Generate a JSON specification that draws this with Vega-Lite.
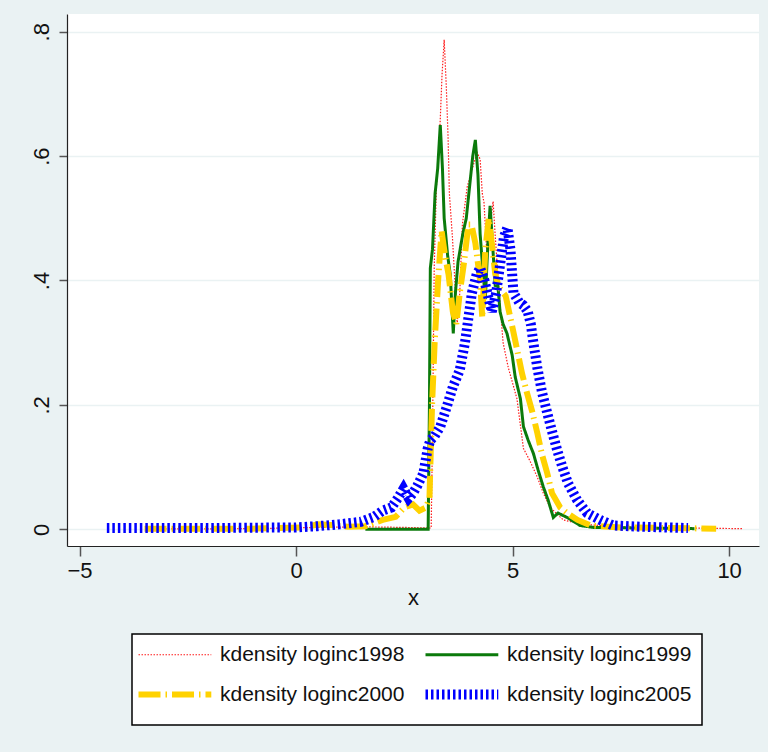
{
  "$schema": "https://vega.github.io/schema/vega-lite/v6.json",
  "autosize": "none",
  "width": 692,
  "height": 532,
  "padding": {"left": 67, "top": 14, "right": 9, "bottom": 206},
  "background": "#eaf2f3",
  "config": {
    "view": {"fill": "white", "stroke": null},
    "font": "Liberation Sans"
  },
  "datasets": {
    "d": [
      {"series": "kdensity loginc1998", "x": -3.3, "y": 0.0005},
      {"series": "kdensity loginc1998", "x": -1.0, "y": 0.001},
      {"series": "kdensity loginc1998", "x": 0.5, "y": 0.003},
      {"series": "kdensity loginc1998", "x": 1.5, "y": 0.004},
      {"series": "kdensity loginc1998", "x": 2.5, "y": 0.003},
      {"series": "kdensity loginc1998", "x": 3.12, "y": 0.002},
      {"series": "kdensity loginc1998", "x": 3.15, "y": 0.15},
      {"series": "kdensity loginc1998", "x": 3.19, "y": 0.42},
      {"series": "kdensity loginc1998", "x": 3.24, "y": 0.55},
      {"series": "kdensity loginc1998", "x": 3.29, "y": 0.6},
      {"series": "kdensity loginc1998", "x": 3.33, "y": 0.66},
      {"series": "kdensity loginc1998", "x": 3.37, "y": 0.73},
      {"series": "kdensity loginc1998", "x": 3.42, "y": 0.787},
      {"series": "kdensity loginc1998", "x": 3.47, "y": 0.71},
      {"series": "kdensity loginc1998", "x": 3.51, "y": 0.63},
      {"series": "kdensity loginc1998", "x": 3.54, "y": 0.54},
      {"series": "kdensity loginc1998", "x": 3.61, "y": 0.47},
      {"series": "kdensity loginc1998", "x": 3.65, "y": 0.42},
      {"series": "kdensity loginc1998", "x": 3.72, "y": 0.33},
      {"series": "kdensity loginc1998", "x": 3.78, "y": 0.38},
      {"series": "kdensity loginc1998", "x": 3.84, "y": 0.49},
      {"series": "kdensity loginc1998", "x": 3.95, "y": 0.55},
      {"series": "kdensity loginc1998", "x": 4.07, "y": 0.58},
      {"series": "kdensity loginc1998", "x": 4.18, "y": 0.606},
      {"series": "kdensity loginc1998", "x": 4.25, "y": 0.595},
      {"series": "kdensity loginc1998", "x": 4.3, "y": 0.54},
      {"series": "kdensity loginc1998", "x": 4.34, "y": 0.525},
      {"series": "kdensity loginc1998", "x": 4.4, "y": 0.45},
      {"series": "kdensity loginc1998", "x": 4.47, "y": 0.48},
      {"series": "kdensity loginc1998", "x": 4.55, "y": 0.527},
      {"series": "kdensity loginc1998", "x": 4.6, "y": 0.47},
      {"series": "kdensity loginc1998", "x": 4.68, "y": 0.39},
      {"series": "kdensity loginc1998", "x": 4.78, "y": 0.3},
      {"series": "kdensity loginc1998", "x": 4.9, "y": 0.26},
      {"series": "kdensity loginc1998", "x": 5.1, "y": 0.21},
      {"series": "kdensity loginc1998", "x": 5.25, "y": 0.13},
      {"series": "kdensity loginc1998", "x": 5.4, "y": 0.11},
      {"series": "kdensity loginc1998", "x": 5.57, "y": 0.084},
      {"series": "kdensity loginc1998", "x": 5.71, "y": 0.058},
      {"series": "kdensity loginc1998", "x": 5.87, "y": 0.035},
      {"series": "kdensity loginc1998", "x": 6.17, "y": 0.015},
      {"series": "kdensity loginc1998", "x": 6.6, "y": 0.008},
      {"series": "kdensity loginc1998", "x": 7.5, "y": 0.004},
      {"series": "kdensity loginc1998", "x": 9.0, "y": 0.002},
      {"series": "kdensity loginc1998", "x": 10.3, "y": 0.001},

      {"series": "kdensity loginc1999", "x": 1.6, "y": 0.0},
      {"series": "kdensity loginc1999", "x": 3.05, "y": 0.0},
      {"series": "kdensity loginc1999", "x": 3.08, "y": 0.2},
      {"series": "kdensity loginc1999", "x": 3.1, "y": 0.42},
      {"series": "kdensity loginc1999", "x": 3.15, "y": 0.45},
      {"series": "kdensity loginc1999", "x": 3.21, "y": 0.54},
      {"series": "kdensity loginc1999", "x": 3.27, "y": 0.58},
      {"series": "kdensity loginc1999", "x": 3.33, "y": 0.65},
      {"series": "kdensity loginc1999", "x": 3.38, "y": 0.58},
      {"series": "kdensity loginc1999", "x": 3.42, "y": 0.5},
      {"series": "kdensity loginc1999", "x": 3.5, "y": 0.44},
      {"series": "kdensity loginc1999", "x": 3.56, "y": 0.41},
      {"series": "kdensity loginc1999", "x": 3.63, "y": 0.315},
      {"series": "kdensity loginc1999", "x": 3.68, "y": 0.38},
      {"series": "kdensity loginc1999", "x": 3.74, "y": 0.43},
      {"series": "kdensity loginc1999", "x": 3.85, "y": 0.475},
      {"series": "kdensity loginc1999", "x": 3.93, "y": 0.5},
      {"series": "kdensity loginc1999", "x": 4.02, "y": 0.56},
      {"series": "kdensity loginc1999", "x": 4.08, "y": 0.6},
      {"series": "kdensity loginc1999", "x": 4.14, "y": 0.626},
      {"series": "kdensity loginc1999", "x": 4.2, "y": 0.57},
      {"series": "kdensity loginc1999", "x": 4.25, "y": 0.475},
      {"series": "kdensity loginc1999", "x": 4.31, "y": 0.42},
      {"series": "kdensity loginc1999", "x": 4.37, "y": 0.37},
      {"series": "kdensity loginc1999", "x": 4.43, "y": 0.46},
      {"series": "kdensity loginc1999", "x": 4.48, "y": 0.52},
      {"series": "kdensity loginc1999", "x": 4.55, "y": 0.445},
      {"series": "kdensity loginc1999", "x": 4.6, "y": 0.39},
      {"series": "kdensity loginc1999", "x": 4.65, "y": 0.4},
      {"series": "kdensity loginc1999", "x": 4.71, "y": 0.35},
      {"series": "kdensity loginc1999", "x": 4.78, "y": 0.33},
      {"series": "kdensity loginc1999", "x": 4.87, "y": 0.315},
      {"series": "kdensity loginc1999", "x": 4.99, "y": 0.28},
      {"series": "kdensity loginc1999", "x": 5.06, "y": 0.245},
      {"series": "kdensity loginc1999", "x": 5.18, "y": 0.21},
      {"series": "kdensity loginc1999", "x": 5.25, "y": 0.165},
      {"series": "kdensity loginc1999", "x": 5.36, "y": 0.143},
      {"series": "kdensity loginc1999", "x": 5.48, "y": 0.122},
      {"series": "kdensity loginc1999", "x": 5.59, "y": 0.095},
      {"series": "kdensity loginc1999", "x": 5.71, "y": 0.068},
      {"series": "kdensity loginc1999", "x": 5.82, "y": 0.047},
      {"series": "kdensity loginc1999", "x": 5.94, "y": 0.019},
      {"series": "kdensity loginc1999", "x": 6.05, "y": 0.026},
      {"series": "kdensity loginc1999", "x": 6.26, "y": 0.019},
      {"series": "kdensity loginc1999", "x": 6.56, "y": 0.006},
      {"series": "kdensity loginc1999", "x": 6.86, "y": 0.003},
      {"series": "kdensity loginc1999", "x": 8.0, "y": 0.002},
      {"series": "kdensity loginc1999", "x": 9.2, "y": 0.001},

      {"series": "kdensity loginc2000", "x": -3.5, "y": 0.001},
      {"series": "kdensity loginc2000", "x": -1.0, "y": 0.001},
      {"series": "kdensity loginc2000", "x": 0.2, "y": 0.003},
      {"series": "kdensity loginc2000", "x": 0.5, "y": 0.008},
      {"series": "kdensity loginc2000", "x": 0.8, "y": 0.007},
      {"series": "kdensity loginc2000", "x": 1.2, "y": 0.004},
      {"series": "kdensity loginc2000", "x": 1.6, "y": 0.005},
      {"series": "kdensity loginc2000", "x": 2.0, "y": 0.015},
      {"series": "kdensity loginc2000", "x": 2.3, "y": 0.02},
      {"series": "kdensity loginc2000", "x": 2.5, "y": 0.035},
      {"series": "kdensity loginc2000", "x": 2.7, "y": 0.04},
      {"series": "kdensity loginc2000", "x": 2.85, "y": 0.03},
      {"series": "kdensity loginc2000", "x": 3.0, "y": 0.035},
      {"series": "kdensity loginc2000", "x": 3.08, "y": 0.05},
      {"series": "kdensity loginc2000", "x": 3.14, "y": 0.2},
      {"series": "kdensity loginc2000", "x": 3.2, "y": 0.3},
      {"series": "kdensity loginc2000", "x": 3.28, "y": 0.4},
      {"series": "kdensity loginc2000", "x": 3.36, "y": 0.48},
      {"series": "kdensity loginc2000", "x": 3.44, "y": 0.44},
      {"series": "kdensity loginc2000", "x": 3.52, "y": 0.41},
      {"series": "kdensity loginc2000", "x": 3.62, "y": 0.35},
      {"series": "kdensity loginc2000", "x": 3.7, "y": 0.33},
      {"series": "kdensity loginc2000", "x": 3.78, "y": 0.38},
      {"series": "kdensity loginc2000", "x": 3.88, "y": 0.43},
      {"series": "kdensity loginc2000", "x": 3.98, "y": 0.49},
      {"series": "kdensity loginc2000", "x": 4.05, "y": 0.49},
      {"series": "kdensity loginc2000", "x": 4.14, "y": 0.46},
      {"series": "kdensity loginc2000", "x": 4.25, "y": 0.4},
      {"series": "kdensity loginc2000", "x": 4.3, "y": 0.34},
      {"series": "kdensity loginc2000", "x": 4.37, "y": 0.45},
      {"series": "kdensity loginc2000", "x": 4.45, "y": 0.5},
      {"series": "kdensity loginc2000", "x": 4.52, "y": 0.46},
      {"series": "kdensity loginc2000", "x": 4.6, "y": 0.41},
      {"series": "kdensity loginc2000", "x": 4.68, "y": 0.39},
      {"series": "kdensity loginc2000", "x": 4.84, "y": 0.375},
      {"series": "kdensity loginc2000", "x": 4.98, "y": 0.33},
      {"series": "kdensity loginc2000", "x": 5.1, "y": 0.29},
      {"series": "kdensity loginc2000", "x": 5.22, "y": 0.25},
      {"series": "kdensity loginc2000", "x": 5.33, "y": 0.22},
      {"series": "kdensity loginc2000", "x": 5.45, "y": 0.19},
      {"series": "kdensity loginc2000", "x": 5.57, "y": 0.155},
      {"series": "kdensity loginc2000", "x": 5.68, "y": 0.12},
      {"series": "kdensity loginc2000", "x": 5.8, "y": 0.09},
      {"series": "kdensity loginc2000", "x": 5.91, "y": 0.058},
      {"series": "kdensity loginc2000", "x": 6.1, "y": 0.035},
      {"series": "kdensity loginc2000", "x": 6.26, "y": 0.026},
      {"series": "kdensity loginc2000", "x": 6.5, "y": 0.015},
      {"series": "kdensity loginc2000", "x": 6.8, "y": 0.006},
      {"series": "kdensity loginc2000", "x": 7.5, "y": 0.003},
      {"series": "kdensity loginc2000", "x": 9.7, "y": 0.001},

      {"series": "kdensity loginc2005", "x": -4.37, "y": 0.002},
      {"series": "kdensity loginc2005", "x": -2.0, "y": 0.002},
      {"series": "kdensity loginc2005", "x": 0.0, "y": 0.003},
      {"series": "kdensity loginc2005", "x": 0.5, "y": 0.005},
      {"series": "kdensity loginc2005", "x": 1.0, "y": 0.008},
      {"series": "kdensity loginc2005", "x": 1.5, "y": 0.012},
      {"series": "kdensity loginc2005", "x": 1.8, "y": 0.02},
      {"series": "kdensity loginc2005", "x": 2.0, "y": 0.03},
      {"series": "kdensity loginc2005", "x": 2.2, "y": 0.035},
      {"series": "kdensity loginc2005", "x": 2.35, "y": 0.05},
      {"series": "kdensity loginc2005", "x": 2.48, "y": 0.065},
      {"series": "kdensity loginc2005", "x": 2.6, "y": 0.05},
      {"series": "kdensity loginc2005", "x": 2.7, "y": 0.058},
      {"series": "kdensity loginc2005", "x": 2.8, "y": 0.07},
      {"series": "kdensity loginc2005", "x": 2.94, "y": 0.09},
      {"series": "kdensity loginc2005", "x": 3.04, "y": 0.13},
      {"series": "kdensity loginc2005", "x": 3.1, "y": 0.143},
      {"series": "kdensity loginc2005", "x": 3.2, "y": 0.15},
      {"series": "kdensity loginc2005", "x": 3.33, "y": 0.165},
      {"series": "kdensity loginc2005", "x": 3.48, "y": 0.197},
      {"series": "kdensity loginc2005", "x": 3.62, "y": 0.229},
      {"series": "kdensity loginc2005", "x": 3.78, "y": 0.256},
      {"series": "kdensity loginc2005", "x": 3.9, "y": 0.3},
      {"series": "kdensity loginc2005", "x": 3.98, "y": 0.34},
      {"series": "kdensity loginc2005", "x": 4.06, "y": 0.38},
      {"series": "kdensity loginc2005", "x": 4.17, "y": 0.41},
      {"series": "kdensity loginc2005", "x": 4.25, "y": 0.42},
      {"series": "kdensity loginc2005", "x": 4.35, "y": 0.4},
      {"series": "kdensity loginc2005", "x": 4.45, "y": 0.37},
      {"series": "kdensity loginc2005", "x": 4.52, "y": 0.35},
      {"series": "kdensity loginc2005", "x": 4.62, "y": 0.38},
      {"series": "kdensity loginc2005", "x": 4.72, "y": 0.43},
      {"series": "kdensity loginc2005", "x": 4.8, "y": 0.47},
      {"series": "kdensity loginc2005", "x": 4.88, "y": 0.485},
      {"series": "kdensity loginc2005", "x": 4.95, "y": 0.45},
      {"series": "kdensity loginc2005", "x": 5.02, "y": 0.38},
      {"series": "kdensity loginc2005", "x": 5.15, "y": 0.365},
      {"series": "kdensity loginc2005", "x": 5.25, "y": 0.36},
      {"series": "kdensity loginc2005", "x": 5.35, "y": 0.35},
      {"series": "kdensity loginc2005", "x": 5.42, "y": 0.33},
      {"series": "kdensity loginc2005", "x": 5.48, "y": 0.3},
      {"series": "kdensity loginc2005", "x": 5.57, "y": 0.26},
      {"series": "kdensity loginc2005", "x": 5.68, "y": 0.22},
      {"series": "kdensity loginc2005", "x": 5.8, "y": 0.187},
      {"series": "kdensity loginc2005", "x": 5.92, "y": 0.155},
      {"series": "kdensity loginc2005", "x": 6.03, "y": 0.127},
      {"series": "kdensity loginc2005", "x": 6.15, "y": 0.1},
      {"series": "kdensity loginc2005", "x": 6.28, "y": 0.074},
      {"series": "kdensity loginc2005", "x": 6.49, "y": 0.047},
      {"series": "kdensity loginc2005", "x": 6.72, "y": 0.026},
      {"series": "kdensity loginc2005", "x": 7.02, "y": 0.015},
      {"series": "kdensity loginc2005", "x": 7.32, "y": 0.006},
      {"series": "kdensity loginc2005", "x": 8.0, "y": 0.004},
      {"series": "kdensity loginc2005", "x": 9.05, "y": 0.002}
    ]
  },
  "data": {"name": "d"},
  "mark": {"type": "line", "interpolate": "linear", "strokeCap": "butt"},
  "encoding": {
    "x": {
      "field": "x", "type": "quantitative",
      "scale": {"domain": [-5.29, 10.69], "nice": false, "zero": false},
      "axis": {
        "values": [-5, 0, 5, 10], "grid": false, "title": "x",
        "domainColor": "#222222", "domainWidth": 1.2,
        "tickColor": "#555555", "tickSize": 10, "tickWidth": 1.5,
        "labelFontSize": 22, "labelColor": "#111111", "labelPadding": 4,
        "titleFontSize": 22, "titleFontWeight": "normal", "titleColor": "#111111", "titlePadding": 6
      }
    },
    "y": {
      "field": "y", "type": "quantitative",
      "scale": {"domain": [-0.0269, 0.8285], "nice": false, "zero": false},
      "axis": {
        "values": [0, 0.2, 0.4, 0.6, 0.8], "grid": true, "gridColor": "#eaf2f3", "gridWidth": 1.5,
        "title": null,
        "labelExpr": "datum.value == 0 ? '0' : replace(format(datum.value, '.1f'), '0.', '.')",
        "labelAngle": 270, "labelFontSize": 22, "labelColor": "#111111", "labelPadding": 6,
        "domainColor": "#222222", "domainWidth": 1.2,
        "tickColor": "#555555", "tickSize": 8, "tickWidth": 1.5
      }
    },
    "color": {
      "field": "series", "type": "nominal",
      "scale": {
        "domain": ["kdensity loginc1998", "kdensity loginc1999", "kdensity loginc2000", "kdensity loginc2005"],
        "range": ["#ff1a1a", "#0b7a0b", "#ffd200", "#0000ff"]
      },
      "legend": {
        "title": null, "orient": "none", "legendX": 65, "legendY": 620,
        "direction": "horizontal",
        "columns": 2, "columnPadding": 0, "rowPadding": 9,
        "padding": 10, "strokeColor": "#000000", "fillColor": "#ffffff",
        "symbolType": "M-1,0H4.2", "symbolSize": 784,
        "labelFontSize": 21, "labelColor": "#111111", "labelLimit": 400, "labelOffset": 57,
        "encode": {
          "legend": {"update": {"strokeWidth": {"value": 1.5}}},
          "symbols": {"update": {"strokeWidth": {"signal": "datum.value === 'kdensity loginc1998' ? 1.2 : datum.value === 'kdensity loginc1999' ? 3 : datum.value === 'kdensity loginc2000' ? 6 : 10"}}}
        }
      }
    },
    "strokeDash": {
      "field": "series", "type": "nominal",
      "scale": {
        "domain": ["kdensity loginc1998", "kdensity loginc1999", "kdensity loginc2000", "kdensity loginc2005"],
        "range": [[1.5, 1.5], [1, 0], [22, 5, 1.5, 5], [2.5, 3]]
      }
    },
    "strokeWidth": {
      "condition": [
        {"test": "datum.series === 'kdensity loginc1998'", "value": 1.2},
        {"test": "datum.series === 'kdensity loginc1999'", "value": 3},
        {"test": "datum.series === 'kdensity loginc2000'", "value": 6}
      ],
      "value": 10
    }
  }
}
